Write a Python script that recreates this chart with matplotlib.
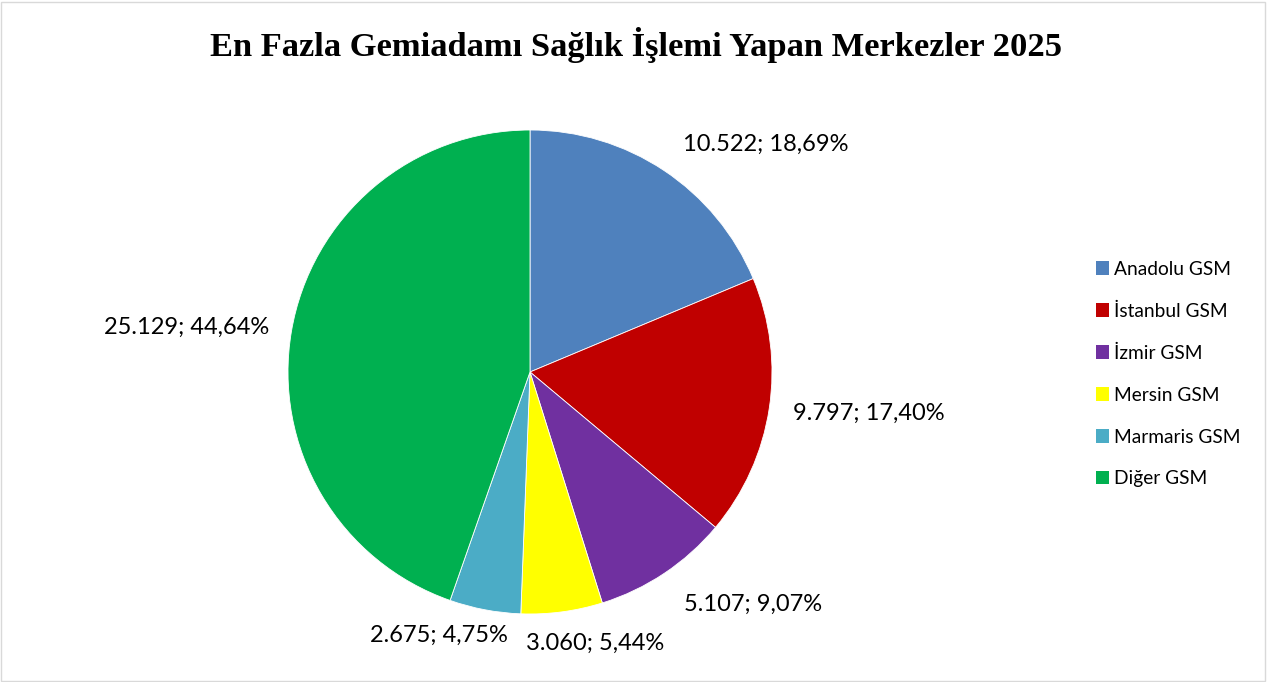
import matplotlib.pyplot as plt
from matplotlib.patches import Rectangle, Patch
import numpy as np

# data
centers = ['Anadolu GSM', 'İstanbul GSM', 'İzmir GSM', 'Mersin GSM', 'Marmaris GSM', 'Diğer GSM']
counts = [10522, 9797, 5107, 3060, 2675, 25129]
colors = ['#4F81BD', '#C00000', '#7030A0', '#FFFF00', '#4BACC6', '#00B050']

# label placement (relative to radius), picked to match the best-fit layout
label_pos = [(0.975, 0.942), (1.40, -0.17), (0.92, -0.96),
             (0.27, -1.12), (-0.376, -1.09), (-1.42, 0.186)]

W, H = 1267, 682
fig = plt.figure(figsize=(W / 100, H / 100), dpi=100)

cx, cy, r = 530, 372, 242
ax = fig.add_axes([(cx - r) / W, (H - cy - r) / H, 2 * r / W, 2 * r / H])
ax.pie(counts, colors=colors, startangle=90, counterclock=False, radius=1,
       wedgeprops=dict(linewidth=0.6, edgecolor='white'))
ax.set_xlim(-1, 1)
ax.set_ylim(-1, 1)
ax.set_aspect('equal')
ax.axis('off')

total = sum(counts)
for v, (lx, ly) in zip(counts, label_pos):
    pct = v / total * 100
    txt = f"{v:,}".replace(',', '.') + "; " + f"{pct:.2f}".replace('.', ',') + "%"
    ax.text(lx, ly, txt, ha='center', va='center', fontsize=17,
            family='Lato', color='#000000', clip_on=False)

fig.text(636 / W, 1 - 45 / H, 'En Fazla Gemiadamı Sağlık İşlemi Yapan Merkezler 2025',
         ha='center', va='center', fontsize=24.8, fontweight='bold',
         family='Liberation Serif')

handles = [Patch(facecolor=c, edgecolor='none') for c in colors]
fig.legend(handles, centers, loc='center left', bbox_to_anchor=(1086 / W, 1 - 374 / H),
           frameon=False, prop={'family': 'Lato', 'size': 13.8},
           handlelength=0.7, handleheight=0.7, handletextpad=0.25,
           labelspacing=1.3, borderpad=0)

fig.patches.append(Rectangle((1 / W, 1 / H), 1 - 3 / W, 1 - 3 / H, transform=fig.transFigure,
                             fill=False, edgecolor='#D9D9D9', linewidth=1))

fig.savefig('out.png', dpi=100, facecolor='white')
